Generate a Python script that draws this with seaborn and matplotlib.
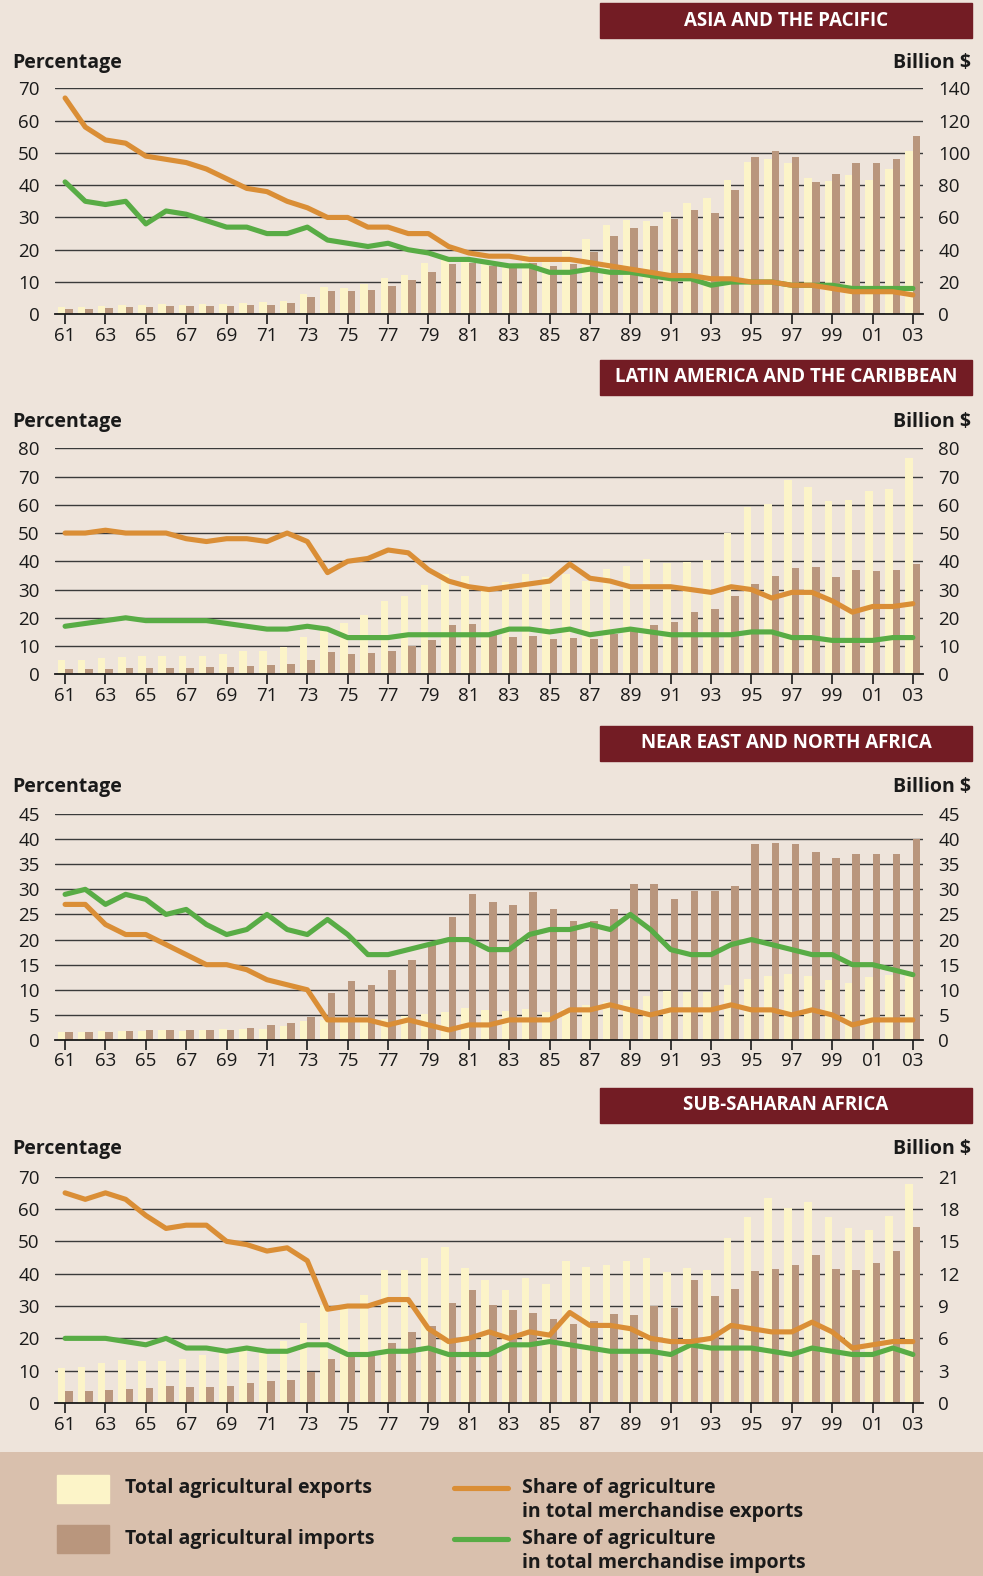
import numpy as np
import pandas as pd
import matplotlib.pyplot as plt
import matplotlib.patches as mpatches
import seaborn as sns

# --- data (1961-2003) ---
years = ["61", "62", "63", "64", "65", "66", "67", "68", "69", "70", "71", "72",
         "73", "74", "75", "76", "77", "78", "79", "80", "81", "82", "83", "84",
         "85", "86", "87", "88", "89", "90", "91", "92", "93", "94", "95", "96",
         "97", "98", "99", "00", "01", "02", "03"]
tick_labels = ["61", "63", "65", "67", "69", "71", "73", "75", "77", "79", "81",
               "83", "85", "87", "89", "91", "93", "95", "97", "99", "01", "03"]

asia_exp = [4.5, 4.5, 5.2, 5.8, 5.8, 6.4, 5.8, 6.4, 6.4, 7.0, 7.6, 8.3,
            12.6, 16.9, 16.3, 18.8, 22.5, 24.4, 31.8, 33.7, 32.5, 31.0,
            32.0, 36.5, 32.6, 39.2, 46.7, 55.3, 58.4, 57.8, 63.4, 69.0,
            72.1, 83.2, 94.4, 96.2, 93.7, 84.5, 82.6, 86.3, 83.2, 90.0, 101.2]
asia_imp = [3.3, 3.3, 3.9, 4.5, 4.5, 5.2, 5.2, 5.2, 5.2, 5.8, 5.8, 7.0,
            10.7, 14.5, 14.5, 15.1, 17.6, 21.3, 26.2, 31.2, 32.0, 30.0,
            30.0, 31.6, 30.1, 31.4, 38.8, 48.7, 53.7, 54.9, 59.1, 64.6,
            62.8, 77.0, 97.5, 101.2, 97.5, 82.0, 86.9, 93.7, 93.7, 96.2, 110.5]
asia_exp_share = [67, 58, 54, 53, 49, 48, 47, 45, 42, 39, 38, 35, 33, 30, 30, 27,
                  27, 25, 25, 21, 19, 18, 18, 17, 17, 17, 16, 15, 14, 13, 12, 12,
                  11, 11, 10, 10, 9, 9, 8, 7, 7, 7, 6]
asia_imp_share = [41, 35, 34, 35, 28, 32, 31, 29, 27, 27, 25, 25, 27, 23, 22, 21,
                  22, 20, 19, 17, 17, 16, 15, 15, 13, 13, 14, 13, 13, 12, 11, 11,
                  9, 10, 10, 10, 9, 9, 9, 8, 8, 8, 8]

latam_exp = [5.1, 5.1, 5.8, 6.1, 6.5, 6.5, 6.5, 6.5, 7.2, 8.3, 8.3, 9.7,
             13.2, 15.3, 18.2, 21.0, 26.0, 27.7, 31.6, 35.5, 34.8, 31.0,
             32.7, 35.5, 34.4, 35.5, 33.0, 37.3, 38.3, 40.8, 39.3, 39.8,
             40.5, 50.0, 59.1, 60.3, 68.8, 66.3, 61.4, 61.7, 64.9, 65.6, 76.6]
latam_imp = [1.9, 1.9, 1.9, 2.2, 2.2, 2.2, 2.2, 2.6, 2.6, 2.9, 3.3, 3.7,
             5.1, 7.9, 7.2, 7.6, 8.3, 10.0, 12.2, 17.5, 17.8, 13.9,
             13.2, 13.6, 12.5, 12.9, 12.5, 14.3, 15.7, 17.5, 18.5, 22.1,
             23.1, 27.7, 32.0, 34.8, 37.6, 38.0, 34.5, 36.9, 36.6, 36.9, 39.1]
latam_exp_share = [50, 50, 51, 50, 50, 50, 48, 47, 48, 48, 47, 50, 47, 36, 40, 41,
                   44, 43, 37, 33, 31, 30, 31, 32, 33, 39, 34, 33, 31, 31, 31, 30,
                   29, 31, 30, 27, 29, 29, 26, 22, 24, 24, 25]
latam_imp_share = [17, 18, 19, 20, 19, 19, 19, 19, 18, 17, 16, 16, 17, 16, 13, 13,
                   13, 14, 14, 14, 14, 14, 16, 16, 15, 16, 14, 15, 16, 15, 14, 14,
                   14, 14, 15, 15, 13, 13, 12, 12, 12, 13, 13]

nena_exp = [1.6, 1.6, 1.8, 1.8, 1.8, 2.0, 1.8, 2.0, 2.2, 2.2, 2.2, 2.8,
            3.8, 4.0, 4.0, 4.0, 4.2, 4.8, 5.2, 5.6, 6.4, 6.0,
            5.8, 6.2, 5.6, 6.2, 7.0, 7.6, 8.0, 8.8, 9.8, 9.6,
            9.6, 10.9, 12.1, 12.7, 13.1, 12.7, 11.9, 11.3, 12.5, 12.9, 12.9]
nena_imp = [1.6, 1.6, 1.6, 1.8, 2.0, 2.0, 2.0, 2.0, 2.0, 2.4, 3.0, 3.4,
            4.6, 9.4, 11.7, 10.9, 13.9, 15.9, 18.9, 24.5, 29.1, 27.5,
            26.9, 29.5, 26.1, 23.7, 23.7, 26.1, 31.1, 31.1, 28.1, 29.7,
            29.7, 30.7, 39.0, 39.2, 39.0, 37.4, 36.2, 37.0, 37.0, 37.0, 40.0]
nena_exp_share = [27, 27, 23, 21, 21, 19, 17, 15, 15, 14, 12, 11, 10, 4, 4, 4,
                  3, 4, 3, 2, 3, 3, 4, 4, 4, 6, 6, 7, 6, 5, 6, 6,
                  6, 7, 6, 6, 5, 6, 5, 3, 4, 4, 4]
nena_imp_share = [29, 30, 27, 29, 28, 25, 26, 23, 21, 22, 25, 22, 21, 24, 21, 17,
                  17, 18, 19, 20, 20, 18, 18, 21, 22, 22, 23, 22, 25, 22, 18, 17,
                  17, 19, 20, 19, 18, 17, 17, 15, 15, 14, 13]

ssa_exp = [3.25, 3.34, 3.71, 3.99, 3.9, 3.9, 4.08, 4.45, 4.64, 4.9, 4.76, 5.75,
           7.42, 9.1, 8.9, 10.0, 12.3, 12.3, 13.45, 14.5, 12.5, 11.4,
           10.5, 11.6, 11.0, 13.2, 12.6, 12.8, 13.2, 13.45, 12.2, 12.5,
           12.3, 15.3, 17.3, 19.0, 18.1, 18.65, 17.3, 16.2, 16.1, 17.35, 20.3]
ssa_imp = [1.1, 1.1, 1.2, 1.3, 1.4, 1.58, 1.48, 1.48, 1.58, 1.86, 2.04, 2.13,
           2.88, 4.08, 4.6, 4.45, 5.57, 6.59, 7.14, 9.28, 10.5, 9.1,
           8.6, 8.35, 7.8, 7.33, 7.6, 8.26, 8.17, 9.0, 8.8, 11.4,
           9.93, 10.6, 12.25, 12.43, 12.8, 13.7, 12.43, 12.3, 13.0, 14.1, 16.3]
ssa_exp_share = [65, 63, 65, 63, 58, 54, 55, 55, 50, 49, 47, 48, 44, 29, 30, 30,
                 32, 32, 23, 19, 20, 22, 20, 22, 21, 28, 24, 24, 23, 20, 19, 19,
                 20, 24, 23, 22, 22, 25, 22, 17, 18, 19, 19]
ssa_imp_share = [20, 20, 20, 19, 18, 20, 17, 17, 16, 17, 16, 16, 18, 18, 15, 15,
                 16, 16, 17, 15, 15, 15, 18, 18, 19, 18, 17, 16, 16, 16, 15, 18,
                 17, 17, 17, 16, 15, 17, 16, 15, 15, 17, 15]

# --- style ---
BG = "#EEE4DB"
LEGEND_BG = "#D9C0AD"
EXP_COLOR = "#FCF4C8"
IMP_COLOR = "#B9967D"
ORANGE = "#DA8E36"
GREEN = "#58AC45"
HEADER = "#731C24"
GRID = "#3A3A3A"
TXT = "#1a1a1a"
W, H = 983, 1576

sns.set_theme(style="white")
plt.rcParams['font.family'] = ['Open Sans', 'DejaVu Sans']

fig = plt.figure(figsize=(W / 100, H / 100), dpi=100, facecolor=BG)

panels = [
    ("ASIA AND THE PACIFIC", asia_exp, asia_imp, asia_exp_share, asia_imp_share,
     70, 10, 140, 20, 88.3, 314.3, 3, 63),
    ("LATIN AMERICA AND THE CARIBBEAN", latam_exp, latam_imp, latam_exp_share, latam_imp_share,
     80, 10, 80, 10, 448.3, 674.3, 360, 422),
    ("NEAR EAST AND NORTH AFRICA", nena_exp, nena_imp, nena_exp_share, nena_imp_share,
     45, 5, 45, 5, 814, 1040, 726, 787),
    ("SUB-SAHARAN AFRICA", ssa_exp, ssa_imp, ssa_exp_share, ssa_imp_share,
     70, 10, 21, 3, 1176.7, 1403, 1088, 1149),
]

x_pos = np.arange(len(years))

for (title, exp, imp, exp_share, imp_share, pmax, pstep, bmax, bstep,
     top, bottom, head_y, lab_y) in panels:
    ax = fig.add_axes([55 / W, 1 - bottom / H, 868 / W, (bottom - top) / H])
    ax.set_facecolor(BG)

    # bars: billion $ (right axis)
    df = pd.DataFrame({
        "year": years * 2,
        "value": exp + imp,
        "kind": ["exports"] * len(years) + ["imports"] * len(years),
    })
    sns.barplot(data=df, x="year", y="value", hue="kind", palette=[EXP_COLOR, IMP_COLOR],
                width=0.75, saturation=1, linewidth=0, legend=False, ax=ax)

    # lines: percentage (left axis)
    ax2 = ax.twinx()
    sns.lineplot(x=x_pos, y=imp_share, color=GREEN, linewidth=3.7, ax=ax2,
                 solid_capstyle="round", solid_joinstyle="round")
    sns.lineplot(x=x_pos, y=exp_share, color=ORANGE, linewidth=3.7, ax=ax2,
                 solid_capstyle="round", solid_joinstyle="round")

    ax.set_xlim(-0.5, len(years) - 0.5)
    ax.set_ylim(0, bmax)
    bticks = np.arange(0, bmax + 0.1, bstep)
    ax.set_yticks(bticks)
    ax.set_yticklabels([f"{v:g}" for v in bticks])
    ax.yaxis.tick_right()
    ax.set_axisbelow(True)
    ax.grid(axis="y", color=GRID, linewidth=1.0)
    ax.grid(axis="x", visible=False)
    ax.set_xticks(np.arange(0, len(years), 2))
    ax.set_xticklabels(tick_labels)
    ax.tick_params(axis="x", length=7, width=1.2, color=TXT, pad=2,
                   labelsize=13.5, labelcolor=TXT, bottom=True)
    ax.tick_params(axis="y", length=0, pad=11, labelsize=13.5, labelcolor=TXT,
                   left=False, labelleft=False, right=False, labelright=True)
    for s in ["top", "left", "right"]:
        ax.spines[s].set_visible(False)
    ax.spines["bottom"].set_color(TXT)
    ax.spines["bottom"].set_linewidth(1.3)
    ax.set_xlabel("")
    ax.set_ylabel("")

    ax2.set_ylim(0, pmax)
    pticks = np.arange(0, pmax + 0.1, pstep)
    ax2.set_yticks(pticks)
    ax2.set_yticklabels([f"{v:g}" for v in pticks])
    ax2.yaxis.tick_left()
    ax2.tick_params(axis="y", length=0, pad=11, labelsize=13.5, labelcolor=TXT,
                    left=False, labelleft=True, right=False, labelright=False)
    ax2.grid(False)
    for s in ax2.spines.values():
        s.set_visible(False)
    ax2.set_ylabel("")
    ax2.set_xlim(-0.5, len(years) - 0.5)

    # header box
    fig.patches.append(mpatches.Rectangle((600 / W, 1 - (head_y + 35) / H), 372 / W, 35 / H,
                                          transform=fig.transFigure, color=HEADER, zorder=0))
    fig.text(786 / W, 1 - (head_y + 17.5) / H, title, color="white", fontsize=13.5,
             fontweight="bold", ha="center", va="center")
    fig.text(12 / W, 1 - lab_y / H, "Percentage", fontsize=14, fontweight="bold",
             color=TXT, ha="left", va="center")
    fig.text(971 / W, 1 - lab_y / H, "Billion $", fontsize=14, fontweight="bold",
             color=TXT, ha="right", va="center")

# --- legend band ---
lax = fig.add_axes([0, 0, 1, 124 / H])
lax.set_xlim(0, W)
lax.set_ylim(1576, 1452)
lax.axis("off")
lax.add_patch(mpatches.Rectangle((0, 1452), W, 124, color=LEGEND_BG, zorder=0))
lax.add_patch(mpatches.Rectangle((57, 1475), 52, 28, color=EXP_COLOR))
lax.add_patch(mpatches.Rectangle((57, 1525), 52, 28, color=IMP_COLOR))
lax.plot([454, 508], [1488, 1488], color=ORANGE, linewidth=3.7)
lax.plot([454, 508], [1539, 1539], color=GREEN, linewidth=3.7)
legend_font = dict(fontsize=14, fontweight="bold", color=TXT, va="center", ha="left")
lax.text(125, 1488, "Total agricultural exports", **legend_font)
lax.text(125, 1539, "Total agricultural imports", **legend_font)
lax.text(522, 1488, "Share of agriculture", **legend_font)
lax.text(522, 1512, "in total merchandise exports", **legend_font)
lax.text(522, 1539, "Share of agriculture", **legend_font)
lax.text(522, 1563, "in total merchandise imports", **legend_font)

fig.savefig("out.png", dpi=100, facecolor=BG)
